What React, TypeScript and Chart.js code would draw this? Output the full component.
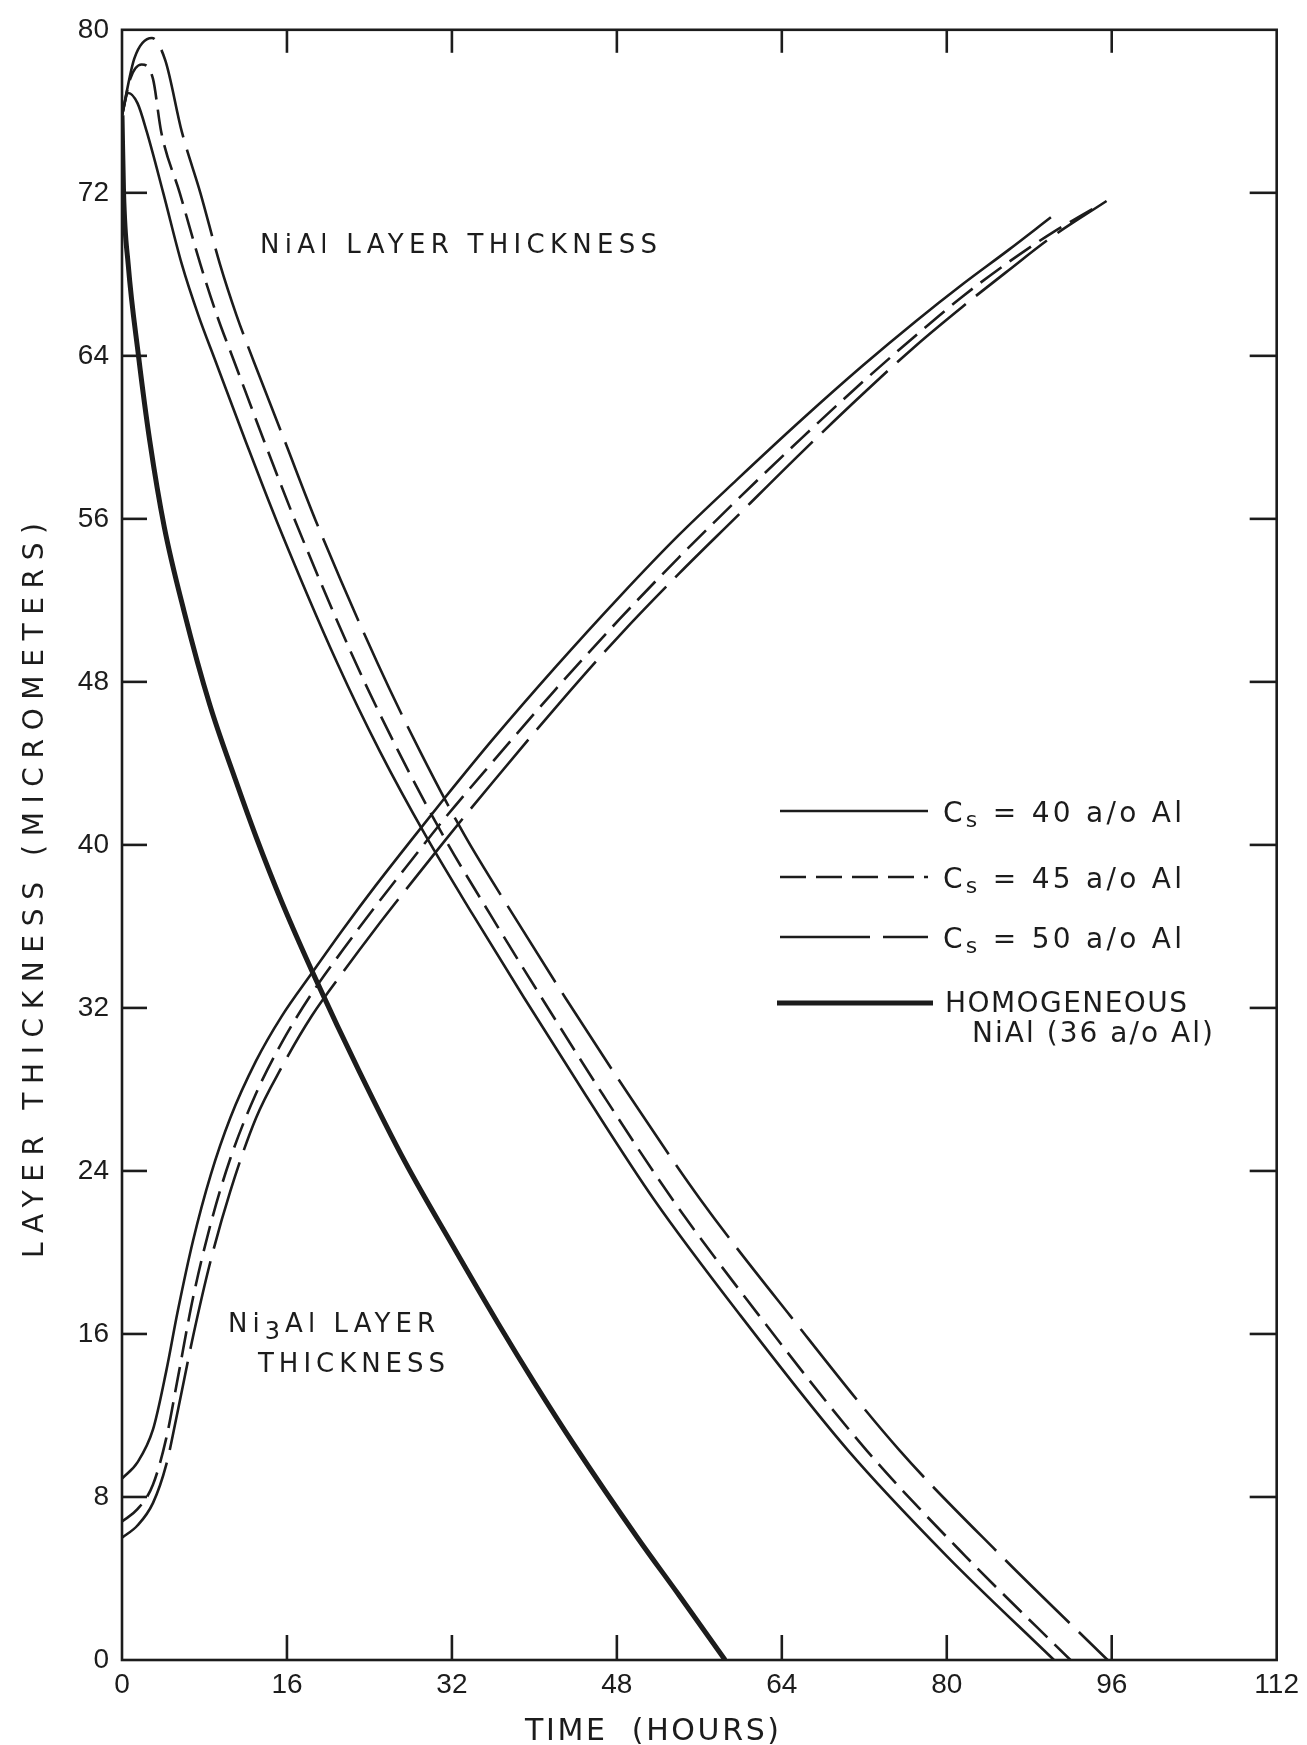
import React, { useEffect, useRef } from 'react';
import { Chart, registerables } from 'chart.js';

Chart.register(...registerables);

// ---------- data (hours, micrometers) ----------
const X_TICKS = [0, 16, 32, 48, 64, 80, 96, 112];
const Y_TICKS = [0, 8, 16, 24, 32, 40, 48, 56, 64, 72, 80];

// NiAl layer thickness (decreasing curves)
const NIAL_40_T = [0, 0.6, 1.5, 2.4, 4.0, 5.8, 7.4, 9.1, 12.0, 15.0, 20.9, 25.0, 29.4, 34.0, 39.0, 45.0, 51.6, 60.0, 70.4, 80.0, 90.4];
const NIAL_40_Y = [75.8, 76.9, 76.4, 75.0, 72.0, 68.5, 66.0, 63.7, 59.8, 55.9, 48.9, 44.6, 40.5, 36.6, 32.5, 27.7, 22.6, 16.9, 10.3, 5.1, 0];

const NIAL_45_T = [0, 0.8, 1.9, 3.0, 3.8, 5.6, 7.6, 9.2, 10.9, 13.8, 16.8, 22.7, 26.8, 31.1, 35.7, 40.7, 46.7, 53.4, 61.8, 72.2, 81.8, 92.0];
const NIAL_45_Y = [75.8, 77.6, 78.3, 77.6, 75.0, 72.0, 68.5, 66.0, 63.7, 59.8, 55.9, 48.9, 44.6, 40.5, 36.6, 32.5, 27.7, 22.6, 16.9, 10.3, 5.1, 0];

const NIAL_50_T = [0, 1.2, 2.9, 4.2, 5.8, 7.6, 9.5, 11.1, 12.8, 15.8, 18.8, 24.8, 28.9, 33.2, 37.9, 43.0, 49.2, 56.1, 64.8, 75.4, 85.3, 95.6];
const NIAL_50_Y = [75.8, 78.6, 79.6, 78.5, 75.0, 72.0, 68.5, 66.0, 63.7, 59.8, 55.9, 48.9, 44.6, 40.5, 36.6, 32.5, 27.7, 22.6, 16.9, 10.3, 5.1, 0];

// Ni3Al layer thickness (increasing curves)
const NI3AL_40_T = [0, 1.5, 3.0, 4.3, 5.4, 6.9, 8.6, 10.5, 13.0, 15.5, 18.4, 21.5, 24.6, 28.0, 31.3, 36.0, 42.0, 48.3, 54.0, 59.6, 66.0, 71.8, 77.0, 81.5, 86.0, 90.1];
const NI3AL_40_Y = [8.9, 9.7, 11.3, 14.2, 17.1, 20.6, 23.8, 26.6, 29.4, 31.6, 33.7, 35.9, 38.0, 40.2, 42.3, 45.2, 48.7, 52.2, 55.2, 57.9, 60.9, 63.5, 65.7, 67.5, 69.2, 70.8];

const NI3AL_45_T = [0, 1.5, 3.0, 4.3, 5.4, 6.9, 8.6, 10.5, 13.0, 15.5, 18.4, 21.5, 24.6, 28.0, 31.3, 36.0, 42.0, 48.3, 54.0, 59.6, 66.0, 71.8, 77.0, 81.5, 86.0, 90.1, 94.8];
const NI3AL_45_Y = [6.8, 7.4, 8.6, 10.9, 13.8, 17.8, 21.4, 24.6, 27.8, 30.3, 32.7, 34.9, 37.0, 39.2, 41.3, 44.1, 47.6, 51.1, 54.1, 56.9, 60.0, 62.7, 65.0, 66.9, 68.6, 70.0, 71.4];

const NI3AL_50_T = [0, 1.5, 3.0, 4.3, 5.4, 6.9, 8.6, 10.5, 13.0, 15.5, 18.4, 21.5, 24.6, 28.0, 31.3, 36.0, 42.0, 48.3, 54.0, 59.6, 66.0, 71.8, 77.0, 81.5, 86.0, 90.1, 95.5];
const NI3AL_50_Y = [6.0, 6.6, 7.7, 9.6, 12.2, 15.9, 19.6, 23.0, 26.6, 29.1, 31.6, 33.8, 35.9, 38.1, 40.2, 43.1, 46.7, 50.3, 53.3, 56.1, 59.3, 62.1, 64.5, 66.4, 68.2, 69.8, 71.6];

// Homogeneous NiAl (36 a/o Al)
const HOMO_T = [0, 0.15, 0.6, 1.6, 2.7, 4.1, 6.0, 8.5, 11.0, 13.0, 15.5, 18.8, 23.0, 27.5, 32.0, 36.5, 40.0, 43.8, 50.0, 54.0, 58.5];
const HOMO_Y = [75.8, 72.0, 68.5, 64.0, 59.8, 55.6, 51.5, 46.9, 43.2, 40.4, 37.2, 33.4, 28.9, 24.4, 20.4, 16.5, 13.6, 10.6, 6.0, 3.2, 0];

const LEGEND_LABELS = ['40', '45', '50'];

// ---------- styles ----------
const INK = '#1c1c1c';
const TICK_FONT = '"Liberation Sans", "DejaVu Sans", Arial, sans-serif';
const TEXT_FONT = '"DejaVu Sans", "Liberation Sans", Arial, sans-serif';
const THIN = 2.6;
const THICK = 5;
const DASH_45 = [26, 10];
const DASH_50 = [90, 13];

const pts = (t: number[], y: number[]) => t.map((v, i) => ({ x: v, y: y[i] }));

function spaced(ctx: CanvasRenderingContext2D, parts: [string, number, number][], x: number, baseline: number, width: number) {
  let natural = 0;
  let n = 0;
  const c: any = ctx;
  for (const p of parts) {
    ctx.font = `${p[1]}px ${TEXT_FONT}`;
    c.letterSpacing = '0px';
    natural += ctx.measureText(p[0]).width;
    n += p[0].length;
  }
  const ls = n > 1 ? (width - natural) / (n - 1) : 0;
  let cx = x;
  for (const p of parts) {
    ctx.font = `${p[1]}px ${TEXT_FONT}`;
    c.letterSpacing = '0px';
    const w = ctx.measureText(p[0]).width;
    c.letterSpacing = `${ls}px`;
    ctx.fillText(p[0], cx, baseline + p[2]);
    cx += w + ls * p[0].length;
  }
  c.letterSpacing = '0px';
}

const annotations = {
  id: 'annotations',
  afterDraw(chart: any) {
    const { ctx, chartArea: a, scales } = chart;
    const xs = scales.x;
    const ys = scales.y;
    ctx.save();
    ctx.strokeStyle = INK;
    ctx.fillStyle = INK;
    ctx.lineCap = 'butt';
    ctx.setLineDash([]);
    ctx.lineWidth = 2.6;
    ctx.strokeRect(a.left, a.top, a.right - a.left, a.bottom - a.top);

    const seg = (x1: number, y1: number, x2: number, y2: number) => {
      ctx.beginPath();
      ctx.moveTo(x1, y1);
      ctx.lineTo(x2, y2);
      ctx.stroke();
    };
    for (const v of Y_TICKS) {
      if (v <= 0 || v >= 80) continue;
      const py = ys.getPixelForValue(v);
      seg(a.left, py, a.left + 25, py);
      seg(a.right - 27, py, a.right, py);
    }
    for (const v of X_TICKS) {
      if (v <= 0 || v >= 112) continue;
      const px = xs.getPixelForValue(v);
      seg(px, a.bottom, px, a.bottom - 25);
      seg(px, a.top, px, a.top + 23);
    }

    ctx.textAlign = 'left';
    ctx.textBaseline = 'alphabetic';
    // in-plot labels
    spaced(ctx, [['NiAl LAYER THICKNESS', 26, 0]], 260, 253, 397);
    spaced(ctx, [['Ni', 26, 0], ['3', 24, 7], ['Al LAYER', 26, 0]], 228, 1332, 207);
    spaced(ctx, [['THICKNESS', 26, 0]], 258, 1372, 187);

    // legend
    const lx1 = 780;
    const lx2 = 928;
    const rows: { y: number; dash: number[]; w: number; label: string }[] = [
      { y: 811, dash: [], w: THIN, label: LEGEND_LABELS[0] },
      { y: 877, dash: DASH_45, w: THIN, label: LEGEND_LABELS[1] },
      { y: 937, dash: DASH_50, w: THIN, label: LEGEND_LABELS[2] },
    ];
    for (const r of rows) {
      ctx.setLineDash(r.dash);
      ctx.lineWidth = r.w;
      seg(lx1, r.y, lx2, r.y);
      ctx.setLineDash([]);
      spaced(ctx, [['C', 28, 0], ['s', 22, 5], [` = ${r.label} a/o Al`, 28, 0]], 943, r.y + 11, 239);
    }
    ctx.lineWidth = THICK;
    seg(777, 1003, 933, 1003);
    spaced(ctx, [['HOMOGENEOUS', 28, 0]], 945, 1012, 242);
    spaced(ctx, [['NiAl (36 a/o Al)', 28, 0]], 972, 1042, 241);

    // axis titles
    spaced(ctx, [['TIME  (HOURS)', 30, 0]], 525, 1740, 254);
    ctx.save();
    ctx.translate(43, 1258);
    ctx.rotate(-Math.PI / 2);
    spaced(ctx, [['LAYER THICKNESS (MICROMETERS)', 28, 0]], 0, 0, 735);
    ctx.restore();

    ctx.restore();
  },
};

export default function App() {
  const ref = useRef<HTMLCanvasElement | null>(null);

  useEffect(() => {
    document.body.style.margin = '0';
    const canvas = ref.current;
    if (!canvas) return;
    const base = {
      borderColor: INK,
      backgroundColor: INK,
      pointRadius: 0,
      fill: false,
      showLine: true,
      cubicInterpolationMode: 'monotone' as const,
      borderJoinStyle: 'round' as const,
    };
    const chart = new Chart(canvas, {
      type: 'line',
      data: {
        datasets: [
          { ...base, label: 'NiAl Cs=40', data: pts(NIAL_40_T, NIAL_40_Y), borderWidth: THIN },
          { ...base, label: 'NiAl Cs=45', data: pts(NIAL_45_T, NIAL_45_Y), borderWidth: THIN, borderDash: DASH_45 },
          { ...base, label: 'NiAl Cs=50', data: pts(NIAL_50_T, NIAL_50_Y), borderWidth: THIN, borderDash: DASH_50 },
          { ...base, label: 'Ni3Al Cs=40', data: pts(NI3AL_40_T, NI3AL_40_Y), borderWidth: THIN },
          { ...base, label: 'Ni3Al Cs=45', data: pts(NI3AL_45_T, NI3AL_45_Y), borderWidth: THIN, borderDash: DASH_45 },
          { ...base, label: 'Ni3Al Cs=50', data: pts(NI3AL_50_T, NI3AL_50_Y), borderWidth: THIN, borderDash: DASH_50 },
          { ...base, label: 'Homogeneous NiAl', data: pts(HOMO_T, HOMO_Y), borderWidth: THICK },
        ],
      },
      options: {
        animation: false,
        responsive: false,
        devicePixelRatio: 1,
        layout: { padding: { top: 29, right: 22, left: 0, bottom: 0 } },
        plugins: { legend: { display: false }, tooltip: { enabled: false }, title: { display: false } },
        scales: {
          x: {
            type: 'linear',
            min: 0,
            max: 112,
            ticks: {
              stepSize: 16,
              autoSkip: false,
              maxRotation: 0,
              padding: 8,
              color: INK,
              font: { family: TICK_FONT, size: 28 },
            },
            grid: { display: false, drawTicks: false },
            border: { display: false },
            afterFit: (s: any) => {
              s.height = 85;
            },
          },
          y: {
            type: 'linear',
            min: 0,
            max: 80,
            ticks: {
              stepSize: 8,
              padding: 13,
              color: INK,
              font: { family: TICK_FONT, size: 28 },
            },
            grid: { display: false, drawTicks: false },
            border: { display: false },
            afterFit: (s: any) => {
              s.width = 122;
            },
          },
        },
      },
      plugins: [annotations],
    });
    return () => chart.destroy();
  }, []);

  return <canvas ref={ref} width={1307} height={1745} style={{ display: 'block' }} />;
}
